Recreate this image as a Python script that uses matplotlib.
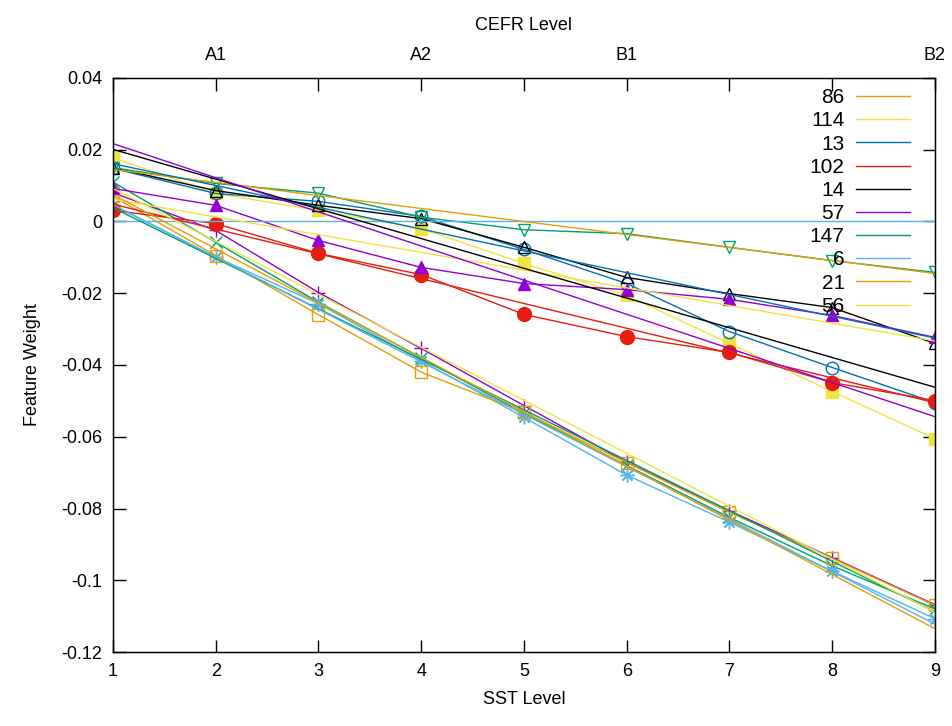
import matplotlib
matplotlib.use('Agg')
import matplotlib.pyplot as plt

plt.rcParams['font.family'] = ['Liberation Sans', 'DejaVu Sans']

# SST levels (x axis) and the CEFR levels on the top axis
sst = [1, 2, 3, 4, 5, 6, 7, 8, 9]
cefr_ticks = [1, 2, 3, 4, 5, 6, 7, 8, 9]
cefr_labels = ['', 'A1', '', 'A2', '', 'B1', '', '', 'B2']

# feature weights per SST level (points joined by lines)
w56 = [0.008, -0.0025, -0.0198, -0.0354, -0.0513, -0.0671, -0.0806, -0.0937, -0.1068]
w21 = [0.011, -0.0058, -0.0225, -0.038, -0.0535, -0.068, -0.0825, -0.096, -0.108]
w6 = [0.0045, -0.0099, -0.0229, -0.0388, -0.0546, -0.0707, -0.0838, -0.0975, -0.1107]
w147 = [0.007, -0.0095, -0.026, -0.042, -0.0532, -0.0672, -0.0811, -0.0939, -0.107]
w57 = [0.0178, 0.0078, 0.0031, -0.002, -0.0117, -0.0206, -0.034, -0.0474, -0.0605]
w14 = [0.0148, 0.0078, 0.0056, 0.0014, -0.0078, -0.0173, -0.0307, -0.0407, -0.0505]
w102 = [0.0031, -0.0006, -0.0089, -0.0148, -0.0259, -0.0321, -0.0365, -0.0449, -0.0499]
w13 = [0.015, 0.0086, 0.0045, 0.0008, -0.0072, -0.0156, -0.0201, -0.024, -0.034]
w114 = [0.0092, 0.0045, -0.0053, -0.0128, -0.0173, -0.019, -0.0217, -0.0262, -0.0323]
w86 = [0.0150, 0.0106, 0.0079, 0.0012, -0.0023, -0.0034, -0.0072, -0.0109, -0.0142]

# fitted straight lines: value at SST 1 and at SST 9, legend order
fit_names = ['86', '114', '13', '102', '14', '57', '147', '6', '21', '56']
fit_start = [0.0145, 0.0062, 0.0161, 0.0048, 0.0201, 0.0217, 0.0038, 0.0047, 0.0075, 0.0092]
fit_end = [-0.0145, -0.0333, -0.0325, -0.0505, -0.0462, -0.0544, -0.1088, -0.1122, -0.1135, -0.1089]

# gnuplot default colours
c_purple = '#9400d3'
c_green = '#009e73'
c_sky = '#56b4e9'
c_orange = '#e69f00'
c_yellow = '#f0e442'
c_blue = '#0072b2'
c_red = '#e51e10'
c_black = '#000000'

fit_colors = [c_orange, c_yellow, c_blue, c_red, c_black, c_purple, c_green, c_sky, c_orange, c_yellow]

fig = plt.figure(figsize=(9.52, 7.26), dpi=100)
ax = fig.add_axes([0.1187, 0.1019, 0.8634, 0.7907])

series = [
    (w56, c_purple, '+', True, 10),
    (w21, c_green, 'x', True, 8),
    (w6, c_sky, (8, 2, 0), True, 10),
    (w147, c_orange, 's', False, 8),
    (w57, c_yellow, 's', True, 8),
    (w14, c_blue, 'o', False, 9),
    (w102, c_red, 'o', True, 10),
    (w13, c_black, '^', False, 9),
    (w114, c_purple, '^', True, 9),
    (w86, c_green, 'v', False, 9),
]
for vals, col, mk, filled, size in series:
    ax.plot(sst, vals, color=col, lw=1.0, marker=mk, markersize=size,
            markerfacecolor=col if filled else 'none', markeredgecolor=col,
            markeredgewidth=1.0)

# zero line
ax.plot([sst[0], sst[-1]], [0, 0], color=c_sky, lw=1.0)

handles = []
for name, y0, y1, col in zip(fit_names, fit_start, fit_end, fit_colors):
    h, = ax.plot([sst[0], sst[-1]], [y0, y1], color=col, lw=1.0, label=name)
    handles.append(h)

ax.set_xlim(1, 9)
ax.set_ylim(-0.12, 0.04)
ax.set_xticks(sst)
ax.set_yticks([0.04, 0.02, 0, -0.02, -0.04, -0.06, -0.08, -0.1, -0.12])
ax.set_yticklabels(['0.04', '0.02', '0', '-0.02', '-0.04', '-0.06', '-0.08', '-0.1', '-0.12'])
ax.tick_params(direction='in', length=9, width=1, labelsize=13, right=True, pad=8)
ax.set_xlabel('SST Level', fontsize=13, labelpad=8)
ax.set_ylabel('Feature Weight', fontsize=13, labelpad=14)
for s in ax.spines.values():
    s.set_linewidth(1.0)

ax2 = ax.twiny()
ax2.set_xlim(1, 9)
ax2.set_xticks(cefr_ticks)
ax2.set_xticklabels(cefr_labels)
ax2.tick_params(direction='in', length=9, width=1, labelsize=13, pad=10)
ax2.set_xlabel('CEFR Level', fontsize=13, labelpad=12)

leg = ax.legend(handles=handles, loc='upper right', bbox_to_anchor=(0.97, 0.982),
                frameon=False, markerfirst=False, fontsize=15, handlelength=2.6,
                handletextpad=0.55, labelspacing=0.2, borderpad=0, borderaxespad=0)

fig.savefig('out.png', dpi=100)
